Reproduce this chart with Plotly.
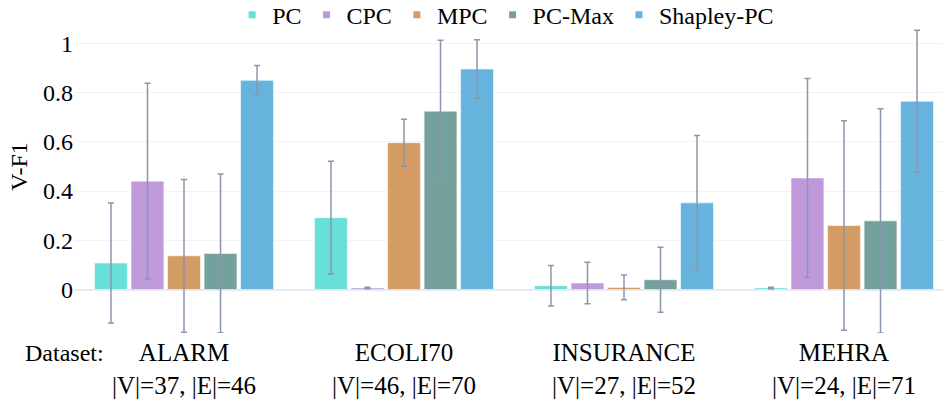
import plotly.graph_objects as go

datasets = ["ALARM", "ECOLI70", "INSURANCE", "MEHRA"]
graph_sizes = ["|V|=37, |E|=46", "|V|=46, |E|=70", "|V|=27, |E|=52", "|V|=24, |E|=71"]
tick_labels = [f"{d}<br>{g}" for d, g in zip(datasets, graph_sizes)]

methods = ["PC", "CPC", "MPC", "PC-Max", "Shapley-PC"]
colors = ["#68E0D7", "#C099DA", "#D49B64", "#75A19D", "#66B4DE"]

mean_pc = [0.108, 0.292, 0.016, 0.007]
mean_cpc = [0.440, 0.007, 0.027, 0.453]
mean_mpc = [0.137, 0.596, 0.009, 0.260]
mean_pcmax = [0.147, 0.724, 0.040, 0.279]
mean_shapley = [0.849, 0.895, 0.352, 0.764]

std_pc = [0.243, 0.229, 0.082, 0.003]
std_cpc = [0.397, 0.003, 0.084, 0.404]
std_mpc = [0.310, 0.095, 0.050, 0.425]
std_pcmax = [0.322, 0.288, 0.132, 0.455]
std_shapley = [0.060, 0.119, 0.273, 0.288]

means = [mean_pc, mean_cpc, mean_mpc, mean_pcmax, mean_shapley]
stds = [std_pc, std_cpc, std_mpc, std_pcmax, std_shapley]

FONT = "Liberation Serif"
FS = 24

fig = go.Figure()
for name, col, m, s in zip(methods, colors, means, stds):
    fig.add_trace(go.Bar(
        name=name, x=tick_labels, y=m, legendgroup=name, showlegend=False,
        marker=dict(color=col, line=dict(color="rgba(255,255,255,0.55)", width=1)),
        error_y=dict(type="data", array=s, visible=True, color="#8A97AC",
                     thickness=1.5, width=3),
    ))
    # small square legend key
    fig.add_trace(go.Scatter(
        name=name, x=[None], y=[None], mode="markers", legendgroup=name,
        marker=dict(symbol="square", size=7, color=col), hoverinfo="skip",
    ))

fig.update_layout(
    template="plotly_white",
    width=943, height=407,
    margin=dict(l=74, r=0, t=0, b=73.7, autoexpand=False),
    font=dict(family=FONT, size=FS, color="black"),
    barmode="group", bargap=0.17, bargroupgap=0.1,
    legend=dict(orientation="h", x=0.182, xanchor="left",
                yref="container", y=0.963, yanchor="middle",
                font=dict(family=FONT, size=FS, color="black"), bgcolor="rgba(0,0,0,0)"),
    xaxis=dict(range=[-0.5, 3.45], showgrid=False, tickfont=dict(size=25), ticks="",
               ticklabelstandoff=2, automargin=False),
    yaxis=dict(range=[-0.176, 1.175], tickvals=[0, 0.2, 0.4, 0.6, 0.8, 1],
               ticktext=["0", "0.2", "0.4", "0.6", "0.8", "1"], automargin=False,
               gridcolor="#F2F3F7", zerolinecolor="#E6EAF3", zerolinewidth=1.5,
               title=dict(text="V-F1", standoff=8, font=dict(size=FS))),
    annotations=[dict(text="Dataset:", xref="paper", yref="paper", x=0.0368, y=-0.059,
                      xanchor="right", yanchor="middle", showarrow=False,
                      font=dict(family=FONT, size=FS, color="black"))],
)

fig.write_html("out.html", config={"displayModeBar": False},
               post_script="document.body.style.margin='0';")
